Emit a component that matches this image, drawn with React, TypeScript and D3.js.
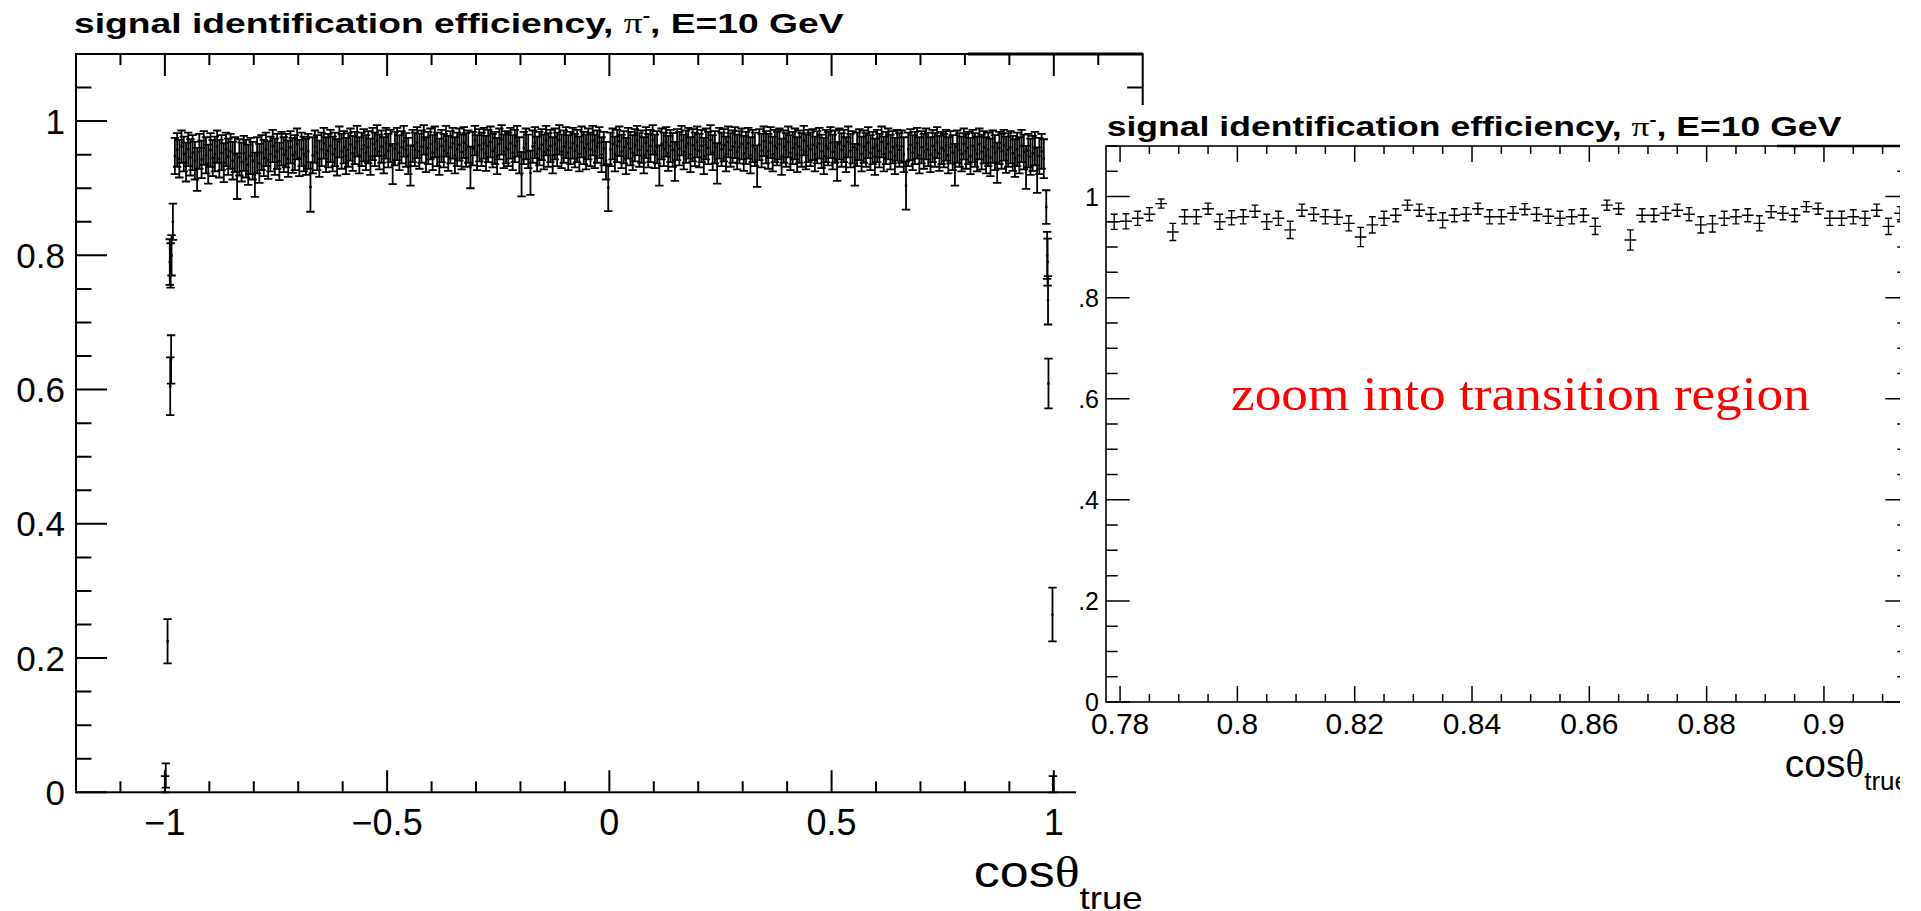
import React, { useLayoutEffect, useRef, useState } from "react";
import * as d3 from "d3";

// ---------------- DATA ----------------
// Left panel: main efficiency band, negative cosθ half (per-mille), bins of 0.005 starting at -0.98
const leftNegEffPm = [
  948, 957, 944, 962, 951, 939, 958, 946, 953, 941,
  928, 955, 943, 960, 949, 936, 957, 945, 951, 962,
  944, 953, 938, 958, 947, 955, 941, 950, 918, 946,
  939, 952, 944, 935, 948, 941, 920, 949, 937, 953,
  945, 958, 942, 951, 963, 947, 955, 940, 959, 950,
  956, 944, 961, 949, 953, 966, 945, 958, 951, 947,
  955, 902, 949, 962, 953, 944, 958, 967, 950, 956,
  963, 951, 958, 946, 969, 955, 961, 948, 957, 965,
  952, 960, 970, 949, 958, 964, 953, 961, 947, 966,
  958, 971, 954, 962, 949, 967, 956, 963, 936, 959,
  966, 953, 961, 970, 957, 948, 934, 963, 958, 968,
  955, 962, 972, 950, 960, 966, 953, 969, 958, 947,
  963, 956, 970, 952, 961, 967, 949, 958, 965, 954,
  968, 957, 962, 931, 959, 971, 953, 964, 958, 967,
  952, 963, 969, 956, 960, 948, 966, 972, 955, 961,
  958, 967, 953, 963, 970, 949, 921, 960, 966, 955,
  923, 962, 968, 951, 959, 965, 954, 971, 957, 963,
  949, 966, 958, 972, 955, 962, 968, 953, 960, 967,
  956, 963, 951, 969, 960, 954, 966, 958, 971, 955,
  962, 968, 950, 959, 941, 901,
];
const leftNegErrPm = [
  27, 25, 28, 24, 26, 29, 25, 27, 26, 28,
  32, 26, 28, 25, 27, 29, 25, 27, 26, 24,
  28, 26, 29, 25, 27, 26, 28, 26, 34, 27,
  29, 26, 28, 30, 27, 28, 33, 27, 29, 26,
  27, 25, 28, 26, 24, 27, 26, 28, 25, 26,
  25, 27, 24, 26, 26, 23, 27, 25, 26, 27,
  26, 37, 27, 24, 26, 27, 25, 23, 26, 25,
  24, 26, 25, 27, 23, 26, 24, 27, 25, 24,
  26, 24, 23, 27, 25, 24, 26, 24, 27, 24,
  25, 23, 26, 24, 27, 23, 25, 24, 30, 25,
  24, 26, 24, 23, 25, 27, 30, 24, 25, 23,
  26, 24, 22, 26, 24, 23, 26, 23, 25, 27,
  24, 25, 23, 26, 24, 23, 27, 25, 24, 26,
  23, 25, 24, 31, 25, 22, 26, 24, 25, 23,
  26, 24, 23, 25, 24, 27, 23, 22, 25, 24,
  25, 23, 26, 24, 23, 27, 33, 24, 23, 25,
  33, 24, 23, 26, 25, 23, 26, 22, 25, 24,
  27, 23, 25, 22, 25, 24, 23, 26, 24, 23,
  25, 24, 26, 23, 24, 26, 23, 25, 22, 25,
  24, 23, 26, 25, 28, 35,
];
// positive cosθ half, bins of 0.005 starting at 0
const leftPosEffPm = [
  958, 966, 951, 963, 970, 955, 961, 948, 967, 959,
  953, 964, 971, 957, 962, 949, 968, 956, 963, 972,
  955, 961, 934, 966, 958, 969, 952, 963, 957, 940,
  965, 959, 971, 954, 962, 967, 950, 964, 958, 969,
  956, 963, 948, 966, 960, 972, 953, 961, 937, 967,
  958, 964, 951, 969, 957, 962, 968, 954, 961, 966,
  952, 960, 967, 949, 963, 958, 933, 965, 956, 970,
  961, 955, 968, 951, 963, 959, 966, 947, 962, 957,
  969, 953, 960, 966, 950, 962, 957, 971, 954, 963,
  958, 965, 951, 961, 967, 955, 948, 963, 959, 968,
  954, 962, 940, 966, 957, 963, 950, 969, 956, 961,
  935, 958, 965, 951, 962, 957, 968, 953, 960, 947,
  963, 956, 969, 951, 960, 966, 954, 961, 948, 964,
  957, 962, 950, 904, 958, 965, 953, 960, 967, 949,
  961, 955, 966, 958, 950, 963, 957, 968, 952, 960,
  956, 964, 949, 961, 953, 935, 962, 957, 951, 966,
  955, 960, 948, 963, 957, 951, 966, 954, 961, 949,
  958, 946, 962, 953, 938, 960, 955, 964, 950, 957,
  961, 952, 945, 958, 949, 963, 954, 931, 956, 947,
  952, 959, 927, 948, 955, 944,
];
const leftPosErrPm = [
  25, 23, 26, 24, 22, 25, 24, 27, 23, 25,
  26, 24, 22, 25, 24, 27, 23, 25, 24, 22,
  25, 24, 30, 23, 25, 22, 26, 24, 25, 29,
  23, 25, 22, 26, 24, 23, 26, 24, 25, 23,
  25, 24, 27, 23, 24, 22, 26, 24, 30, 23,
  25, 24, 26, 23, 25, 24, 23, 26, 24, 23,
  26, 24, 23, 27, 24, 25, 31, 23, 25, 22,
  24, 26, 23, 26, 24, 25, 23, 27, 24, 25,
  23, 26, 24, 23, 26, 24, 25, 22, 26, 24,
  25, 23, 26, 24, 23, 25, 27, 24, 25, 23,
  26, 24, 29, 23, 25, 24, 26, 23, 25, 24,
  31, 25, 23, 26, 24, 25, 23, 26, 24, 27,
  24, 25, 23, 26, 24, 23, 26, 24, 27, 23,
  25, 24, 26, 36, 25, 23, 26, 24, 23, 27,
  24, 26, 23, 25, 26, 24, 25, 23, 26, 24,
  25, 23, 27, 24, 26, 31, 24, 25, 26, 23,
  26, 24, 27, 24, 25, 26, 23, 26, 24, 27,
  25, 28, 24, 26, 30, 24, 26, 23, 27, 25,
  24, 26, 28, 25, 27, 24, 26, 32, 25, 27,
  26, 25, 34, 27, 26, 29,
];
// transition points at the acceptance edges
const leftEdgeX = [-0.9995, -0.998, -0.994, -0.989, -0.988, -0.987, -0.986, -0.985, -0.982,
  0.983, 0.985, 0.986, 0.987, 0.988, 0.997, 0.998];
const leftEdgeEff = [0.012, 0.025, 0.225, 0.79, 0.605, 0.785, 0.645, 0.8, 0.85,
  0.872, 0.8, 0.79, 0.733, 0.609, 0.265, 0.012];
const leftEdgeErr = [0.012, 0.018, 0.033, 0.034, 0.043, 0.033, 0.036, 0.03, 0.027,
  0.025, 0.035, 0.035, 0.036, 0.037, 0.04, 0.012];

// Right panel (zoom 0.778 – 0.914), bins of 0.002
const rightBinStart = 0.778;
const rightBinWidth = 0.002;
const rightEff = [
  0.950, 0.951, 0.957, 0.965, 0.986, 0.930, 0.960, 0.960, 0.976, 0.950,
  0.958, 0.960, 0.971, 0.950, 0.957, 0.934, 0.973, 0.965, 0.960, 0.959,
  0.947, 0.920, 0.944, 0.957, 0.963, 0.983, 0.973, 0.965, 0.953, 0.963,
  0.965, 0.976, 0.960, 0.960, 0.967, 0.975, 0.965, 0.961, 0.957, 0.960,
  0.963, 0.941, 0.983, 0.976, 0.914, 0.963, 0.963, 0.967, 0.973, 0.965,
  0.944, 0.946, 0.957, 0.960, 0.963, 0.947, 0.970, 0.967, 0.963, 0.980,
  0.976, 0.957, 0.957, 0.960, 0.957, 0.973, 0.941, 0.967,
];
const rightErr = [
  0.015, 0.015, 0.014, 0.013, 0.009, 0.017, 0.014, 0.014, 0.011, 0.015,
  0.014, 0.014, 0.012, 0.015, 0.014, 0.017, 0.012, 0.013, 0.014, 0.014,
  0.015, 0.019, 0.016, 0.014, 0.013, 0.010, 0.012, 0.013, 0.015, 0.013,
  0.013, 0.011, 0.014, 0.014, 0.013, 0.011, 0.013, 0.014, 0.014, 0.014,
  0.013, 0.016, 0.010, 0.011, 0.020, 0.013, 0.013, 0.013, 0.012, 0.013,
  0.016, 0.016, 0.014, 0.014, 0.013, 0.015, 0.012, 0.013, 0.013, 0.010,
  0.011, 0.014, 0.014, 0.014, 0.014, 0.012, 0.016, 0.013,
];

// tick labels
const leftXTickVals = [-1, -0.5, 0, 0.5, 1];
const leftXTickLabels = ["\u22121", "\u22120.5", "0", "0.5", "1"];
const leftYTickVals = [0, 0.2, 0.4, 0.6, 0.8, 1];
const leftYTickLabels = ["0", "0.2", "0.4", "0.6", "0.8", "1"];
const rightXTickVals = [0.78, 0.8, 0.82, 0.84, 0.86, 0.88, 0.9];
const rightXTickLabels = ["0.78", "0.8", "0.82", "0.84", "0.86", "0.88", "0.9"];
const rightYTickVals = [0, 0.2, 0.4, 0.6, 0.8, 1];
const rightYTickLabels = ["0", ".2", ".4", ".6", ".8", "1"];

const SANS = "'Liberation Sans', Arial, Helvetica, sans-serif";
const SERIF = "'Liberation Serif', 'Times New Roman', serif";

// ---------------- helpers ----------------
function FitText(props: any) {
  const { x, y, width, anchor = "start", children, ...rest } = props;
  const ref = useRef<SVGTextElement>(null);
  const [sx, setSx] = useState(1);
  useLayoutEffect(() => {
    if (!ref.current || !width) return;
    const w = ref.current.getBBox().width;
    if (w > 0) setSx(width / w);
  }, [width]);
  return (
    <g transform={`translate(${x},${y}) scale(${sx},1)`}>
      <text ref={ref} x={0} y={0} textAnchor={anchor} {...rest}>
        {children}
      </text>
    </g>
  );
}

function range(a: number, b: number, step: number) {
  const n = Math.round((b - a) / step);
  const out: number[] = [];
  for (let i = 0; i <= n; i++) out.push(+(a + i * step).toFixed(6));
  return out;
}

export default function App() {
  // Left panel
  const L = { x0: 76, x1: 1142.7, y0: 54, y1: 792.3 };
  const xL = d3.scaleLinear().domain([-1.2, 1.2]).range([L.x0, L.x1]);
  const yL = d3.scaleLinear().domain([0, 1.1]).range([L.y1, L.y0]);

  // Right panel
  const R = { x0: 1106, x1: 1909, y0: 146, y1: 702 };
  const xR = d3.scaleLinear().domain([0.7776, 0.9145]).range([R.x0, R.x1]);
  const yR = d3.scaleLinear().domain([0, 1.1]).range([R.y1, R.y0]);

  // left points
  const leftPts: { x: number; v: number; e: number }[] = [];
  leftNegEffPm.forEach((v, i) =>
    leftPts.push({ x: -0.98 + 0.005 * (i + 0.5), v: v / 1000, e: leftNegErrPm[i] / 1000 })
  );
  leftPosEffPm.forEach((v, i) =>
    leftPts.push({ x: 0 + 0.005 * (i + 0.5), v: v / 1000, e: leftPosErrPm[i] / 1000 })
  );
  leftEdgeX.forEach((x, i) => leftPts.push({ x, v: leftEdgeEff[i], e: leftEdgeErr[i] }));

  const capL = 4.2;
  let pathL = "";
  leftPts.forEach((p) => {
    const cx = xL(p.x);
    const ya = yL(Math.max(0, p.v - p.e));
    const yb = yL(p.v + p.e);
    pathL += `M${cx},${ya}V${yb}M${cx - capL},${ya}H${cx + capL}M${cx - capL},${yb}H${cx + capL}`;
  });

  const capR = 3.4;
  let pathR = "";
  rightEff.forEach((v, i) => {
    const lo = rightBinStart + i * rightBinWidth;
    const c = lo + rightBinWidth / 2;
    const cx = xR(c);
    const ya = yR(v - rightErr[i]);
    const yb = yR(v + rightErr[i]);
    const yc = yR(v);
    pathR += `M${cx},${ya}V${yb}M${cx - capR},${ya}H${cx + capR}M${cx - capR},${yb}H${cx + capR}`;
    pathR += `M${xR(lo)},${yc}H${xR(lo + rightBinWidth)}`;
  });

  // ticks
  const lyMinor = range(0, 1.1, 0.05);
  const lxMinor = range(-1.2, 1.2, 0.1).filter((v) => v > -1.2 && v < 1.2);
  const ryMinor = range(0, 1.1, 0.05);
  const rxMinor = range(0.78, 0.91, 0.005);

  let tickL = "";
  lyMinor.forEach((v) => {
    const major = leftYTickVals.some((m) => Math.abs(m - v) < 1e-6);
    const len = major ? 31 : 15.5;
    const y = yL(v);
    tickL += `M${L.x0},${y}H${L.x0 + len}M${L.x1},${y}H${L.x1 - len}`;
  });
  lxMinor.forEach((v) => {
    const major = leftXTickVals.some((m) => Math.abs(m - v) < 1e-6);
    const len = major ? 22 : 11;
    const x = xL(v);
    tickL += `M${x},${L.y1}V${L.y1 - len}M${x},${L.y0}V${L.y0 + len}`;
  });

  let tickR = "";
  ryMinor.forEach((v) => {
    const major = rightYTickVals.some((m) => Math.abs(m - v) < 1e-6);
    const len = major ? 23.7 : 11.7;
    const y = yR(v);
    tickR += `M${R.x0},${y}H${R.x0 + len}M${R.x1},${y}H${R.x1 - len}`;
  });
  rxMinor.forEach((v) => {
    const major = rightXTickVals.some((m) => Math.abs(m - v) < 1e-6);
    const len = major ? 16 : 8;
    const x = xR(v);
    tickR += `M${x},${R.y1}V${R.y1 - len}M${x},${R.y0}V${R.y0 + len}`;
  });

  return (
    <svg
      width={1921}
      height={911}
      style={{ position: "absolute", left: 0, top: 0, background: "#fff" }}
      fontFamily={SANS}
    >
      <rect x={0} y={0} width={1921} height={911} fill="#fff" />
      <defs>
        <clipPath id="rclip">
          <rect x={1000} y={0} width={900} height={911} />
        </clipPath>
      </defs>

      {/* ---------- LEFT PANEL ---------- */}
      <FitText x={74} y={33.3} width={770} fontSize={28.5} fontWeight="bold">
        signal identification efficiency,{" "}
        <tspan fontFamily={SERIF} fontWeight="normal">π</tspan>
        <tspan fontSize={17} dy={-12}>-</tspan>
        <tspan dy={12}>, E=10 GeV</tspan>
      </FitText>
      <rect x={L.x0} y={L.y0} width={L.x1 - L.x0} height={L.y1 - L.y0} fill="none" stroke="#000" strokeWidth={2} />
      <path d={`M968,${L.y0}H${L.x1}`} stroke="#000" strokeWidth={3.2} />
      <path d={tickL} stroke="#000" strokeWidth={2} fill="none" />
      <path d={pathL} stroke="#000" strokeWidth={1.8} fill="none" />
      {leftPts.map((p, i) => (
        <rect key={"m" + i} x={xL(p.x) - 1.2} y={yL(p.v) - 1.2} width={2.4} height={2.4} fill="#000" />
      ))}
      {leftYTickVals.map((v, i) => (
        <text key={"ly" + i} x={65} y={yL(v)} dy="0.36em" fontSize={35} textAnchor="end">
          {leftYTickLabels[i]}
        </text>
      ))}
      {leftXTickVals.map((v, i) => (
        <text key={"lx" + i} x={xL(v)} y={835} fontSize={36} textAnchor="middle">
          {leftXTickLabels[i]}
        </text>
      ))}
      <FitText x={L.x1} y={886.7} width={169} anchor="end" fontSize={44}>
        cos<tspan fontFamily={SERIF}>θ</tspan>
        <tspan fontSize={31} dy={22}>true</tspan>
      </FitText>

      {/* ---------- white inset box ---------- */}
      <rect x={1076} y={105} width={845} height={695} fill="#fff" />

      {/* ---------- RIGHT PANEL ---------- */}
      <g clipPath="url(#rclip)">
        <FitText x={1106.7} y={136} width={735} fontSize={27} fontWeight="bold">
          signal identification efficiency,{" "}
          <tspan fontFamily={SERIF} fontWeight="normal">π</tspan>
          <tspan fontSize={16} dy={-11}>-</tspan>
          <tspan dy={11}>, E=10 GeV</tspan>
        </FitText>
        <rect x={R.x0} y={R.y0} width={R.x1 - R.x0} height={R.y1 - R.y0} fill="none" stroke="#000" strokeWidth={1.6} />
        <path d={`M1777,${R.y0}H${R.x1}`} stroke="#000" strokeWidth={2.6} />
        <path d={tickR} stroke="#000" strokeWidth={1.5} fill="none" />
        <path d={pathR} stroke="#000" strokeWidth={1.4} fill="none" />
        {rightYTickVals.map((v, i) => (
          <text key={"ry" + i} x={1099} y={yR(v)} dy="0.36em" fontSize={25} textAnchor="end">
            {rightYTickLabels[i]}
          </text>
        ))}
        {rightXTickVals.map((v, i) => (
          <text key={"rx" + i} x={xR(v)} y={734} fontSize={30} textAnchor="middle">
            {rightXTickLabels[i]}
          </text>
        ))}
        <text x={R.x1} y={776.7} fontSize={39} textAnchor="end">
          cos<tspan fontFamily={SERIF}>θ</tspan>
          <tspan fontSize={26} dy={13}>true</tspan>
        </text>
      </g>

      <FitText x={1231} y={410} width={579} fontSize={48} fill="#ff0000" fontFamily={SERIF}>
        zoom into transition region
      </FitText>
    </svg>
  );
}
